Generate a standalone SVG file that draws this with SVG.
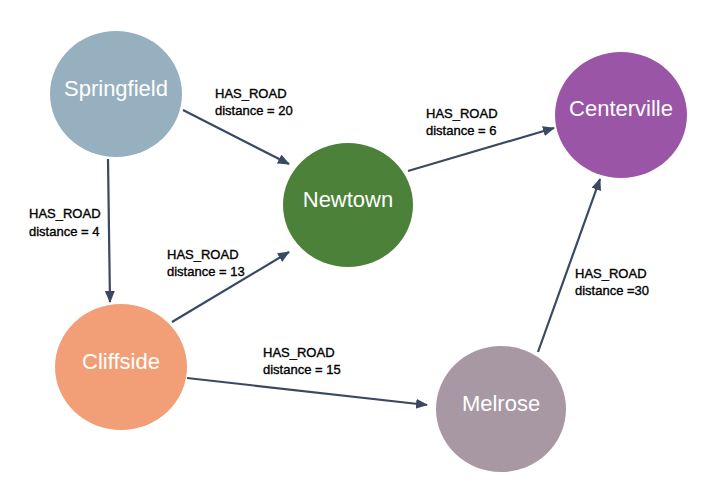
<svg xmlns="http://www.w3.org/2000/svg" width="720" height="504" viewBox="0 0 720 504">
<style>
.node-label{font-family:"Liberation Sans",Arial,sans-serif;font-size:22px;fill:#ffffff;text-anchor:middle}
.edge-label{font-family:"Liberation Sans",Arial,sans-serif;font-size:13px;fill:#000000;stroke:#000000;stroke-width:0.35}
.edge{stroke:#3b4862;stroke-width:2.2;fill:none;marker-end:url(#arrow)}
</style>
<defs>
<marker id="arrow" markerUnits="userSpaceOnUse" markerWidth="13" markerHeight="11" refX="11" refY="5" orient="auto">
<path d="M0,0 L12,5 L0,10 z" fill="#3b4862"/>
</marker>
</defs>
<rect width="720" height="504" fill="#ffffff"/>
<g id="connectors">
<line class="edge" x1="183" y1="110" x2="289" y2="164"/>
<line class="edge" x1="108" y1="159" x2="110" y2="302"/>
<line class="edge" x1="172" y1="322" x2="289" y2="252"/>
<line class="edge" x1="187" y1="378" x2="427" y2="405"/>
<line class="edge" x1="538" y1="352" x2="600" y2="179"/>
<line class="edge" x1="408" y1="171" x2="554" y2="128"/>
<text class="edge-label" x="215" y="98">HAS_ROAD</text>
<text class="edge-label" x="215" y="115">distance = 20</text>
<text class="edge-label" x="29" y="218">HAS_ROAD</text>
<text class="edge-label" x="29" y="236">distance = 4</text>
<text class="edge-label" x="167" y="259">HAS_ROAD</text>
<text class="edge-label" x="167" y="276">distance = 13</text>
<text class="edge-label" x="426" y="118">HAS_ROAD</text>
<text class="edge-label" x="426" y="135">distance = 6</text>
<text class="edge-label" x="263" y="357">HAS_ROAD</text>
<text class="edge-label" x="263" y="374">distance = 15</text>
<text class="edge-label" x="575" y="278">HAS_ROAD</text>
<text class="edge-label" x="575" y="295">distance =30</text>
</g>
<g id="springfield">
<ellipse cx="116" cy="94" rx="66" ry="63" fill="#97b0bf"/>
<text class="node-label" x="116" y="96">Springfield</text>
</g>
<g id="newtown">
<ellipse cx="348" cy="205" rx="65" ry="62" fill="#4b8139"/>
<text class="node-label" x="348" y="207">Newtown</text>
</g>
<g id="centerville">
<ellipse cx="621" cy="115" rx="66" ry="63" fill="#9a55a7"/>
<text class="node-label" x="621" y="116">Centerville</text>
</g>
<g id="cliffside">
<ellipse cx="121" cy="367" rx="66" ry="63" fill="#f29f78"/>
<text class="node-label" x="121" y="369">Cliffside</text>
</g>
<g id="melrose">
<ellipse cx="501" cy="409" rx="65" ry="63" fill="#a898a4"/>
<text class="node-label" x="501" y="411">Melrose</text>
</g>
</svg>
